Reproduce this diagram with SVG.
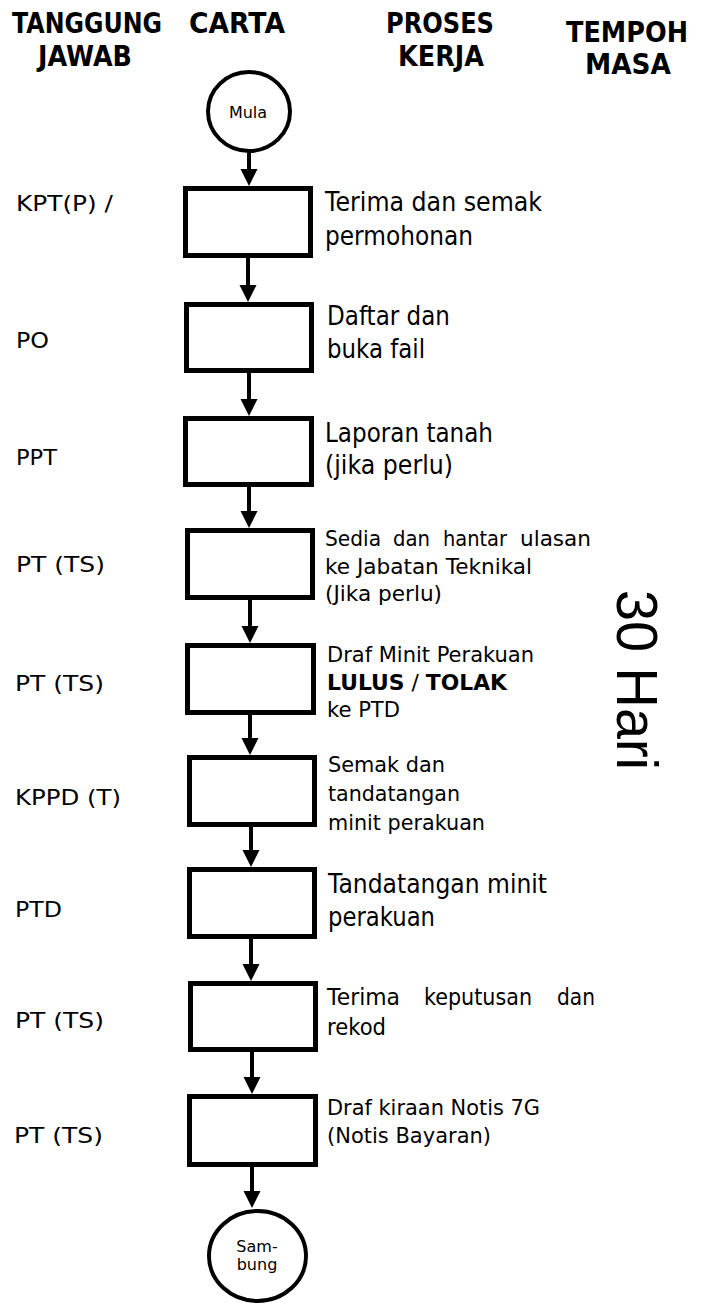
<svg xmlns="http://www.w3.org/2000/svg" width="703" height="1304" viewBox="0 0 703 1304">
<style>
.h{font-family:"DejaVu Sans","Liberation Sans",sans-serif;font-weight:bold;font-size:28px;fill:#000}
.t{font-family:"DejaVu Sans","Liberation Sans",sans-serif;font-size:26px;fill:#000}
.s{font-family:"DejaVu Sans","Liberation Sans",sans-serif;font-size:21px;fill:#000}
.l{font-family:"DejaVu Sans","Liberation Sans",sans-serif;font-size:22px;fill:#000}
.c{font-family:"DejaVu Sans","Liberation Sans",sans-serif;font-size:16px;fill:#000;text-anchor:middle}
.box{fill:#fff;stroke:#000;stroke-width:5}
.circ{fill:#fff;stroke:#000;stroke-width:4}
.ln{stroke:#000;stroke-width:4;fill:none}
.hd{fill:#000}
</style>
<rect width="703" height="1304" fill="#fff"/>
<g id="headers">
<text class="h" x="12" y="33" textLength="150" lengthAdjust="spacingAndGlyphs">TANGGUNG</text>
<text class="h" x="38" y="66" textLength="94" lengthAdjust="spacingAndGlyphs">JAWAB</text>
<text class="h" x="189" y="33" textLength="96" lengthAdjust="spacingAndGlyphs">CARTA</text>
<text class="h" x="386" y="33" textLength="108" lengthAdjust="spacingAndGlyphs">PROSES</text>
<text class="h" x="398" y="66" textLength="86" lengthAdjust="spacingAndGlyphs">KERJA</text>
<text class="h" x="566" y="42" textLength="122" lengthAdjust="spacingAndGlyphs">TEMPOH</text>
<text class="h" x="585" y="74" textLength="86" lengthAdjust="spacingAndGlyphs">MASA</text>
</g>
<g id="connectors">
<path class="ln" d="M249,153V172 M248,258V288 M249,373V402 M249,487V514 M250,600V629 M250,715V741 M251,827V853 M251,939V967 M252,1052V1080 M252,1167V1194"/>
<path class="hd" d="M240.5,169H257.5L249,186Z M239.5,285H256.5L248,302Z M240.5,399H257.5L249,416Z M240.5,511H257.5L249,528Z M241.5,626H258.5L250,643Z M241.5,738H258.5L250,755Z M242.5,850H259.5L251,867Z M242.5,964H259.5L251,981Z M243.5,1077H260.5L252,1094Z M243.5,1191H260.5L252,1208Z"/>
</g>
<g id="mula">
<ellipse class="circ" cx="249" cy="111.5" rx="41" ry="39.5"/>
<text class="c" x="248" y="118">Mula</text>
</g>
<g id="step1">
<rect class="box" x="185.5" y="188.5" width="125" height="67"/>
<text class="l" x="16" y="211" textLength="97" lengthAdjust="spacingAndGlyphs">KPT(P) /</text>
<text class="t" x="325" y="211" textLength="217" lengthAdjust="spacingAndGlyphs">Terima dan semak</text>
<text class="t" x="325" y="245" textLength="148" lengthAdjust="spacingAndGlyphs">permohonan</text>
</g>
<g id="step2">
<rect class="box" x="186.5" y="304.5" width="125" height="66"/>
<text class="l" x="16" y="348" textLength="33" lengthAdjust="spacingAndGlyphs">PO</text>
<text class="t" x="327" y="325" textLength="123" lengthAdjust="spacingAndGlyphs">Daftar dan</text>
<text class="t" x="327" y="358" textLength="98" lengthAdjust="spacingAndGlyphs">buka fail</text>
</g>
<g id="step3">
<rect class="box" x="185.5" y="418.5" width="126" height="66"/>
<text class="l" x="16" y="465" textLength="41" lengthAdjust="spacingAndGlyphs">PPT</text>
<text class="t" x="325" y="442" textLength="168" lengthAdjust="spacingAndGlyphs">Laporan tanah</text>
<text class="t" x="325" y="474" textLength="128" lengthAdjust="spacingAndGlyphs">(jika perlu)</text>
</g>
<g id="step4">
<rect class="box" x="187.5" y="530.5" width="125" height="67"/>
<text class="l" x="16" y="572" textLength="89" lengthAdjust="spacingAndGlyphs">PT (TS)</text>
<text class="s" y="546"><tspan x="325" textLength="56" lengthAdjust="spacingAndGlyphs">Sedia</tspan><tspan x="393" textLength="37" lengthAdjust="spacingAndGlyphs">dan</tspan><tspan x="443" textLength="64" lengthAdjust="spacingAndGlyphs">hantar</tspan><tspan x="520" textLength="71" lengthAdjust="spacingAndGlyphs">ulasan</tspan></text>
<text class="s" x="325" y="574" textLength="207" lengthAdjust="spacingAndGlyphs">ke Jabatan Teknikal</text>
<text class="s" x="325" y="601" textLength="117" lengthAdjust="spacingAndGlyphs">(Jika perlu)</text>
</g>
<g id="step5">
<rect class="box" x="187.5" y="645.5" width="126" height="67"/>
<text class="l" x="15" y="691" textLength="89" lengthAdjust="spacingAndGlyphs">PT (TS)</text>
<text class="s" x="327" y="662" textLength="207" lengthAdjust="spacingAndGlyphs">Draf Minit Perakuan</text>
<text class="s" x="327" y="690" textLength="180" lengthAdjust="spacingAndGlyphs"><tspan font-weight="bold">LULUS</tspan> / <tspan font-weight="bold">TOLAK</tspan></text>
<text class="s" x="327" y="717" textLength="73" lengthAdjust="spacingAndGlyphs">ke PTD</text>
</g>
<g id="step6">
<rect class="box" x="189.5" y="757.5" width="125" height="67"/>
<text class="l" x="15" y="805" textLength="106" lengthAdjust="spacingAndGlyphs">KPPD (T)</text>
<text class="s" x="328" y="772" textLength="117" lengthAdjust="spacingAndGlyphs">Semak dan</text>
<text class="s" x="328" y="801" textLength="132" lengthAdjust="spacingAndGlyphs">tandatangan</text>
<text class="s" x="328" y="830" textLength="157" lengthAdjust="spacingAndGlyphs">minit perakuan</text>
</g>
<g id="step7">
<rect class="box" x="189.5" y="869.5" width="125" height="67"/>
<text class="l" x="15" y="917" textLength="47" lengthAdjust="spacingAndGlyphs">PTD</text>
<text class="t" x="328" y="893" textLength="219" lengthAdjust="spacingAndGlyphs">Tandatangan minit</text>
<text class="t" x="328" y="926" textLength="107" lengthAdjust="spacingAndGlyphs">perakuan</text>
</g>
<g id="step8">
<rect class="box" x="190.5" y="983.5" width="125" height="66"/>
<text class="l" x="15" y="1028" textLength="89" lengthAdjust="spacingAndGlyphs">PT (TS)</text>
<text class="t" y="1005" style="font-size:23px"><tspan x="327" textLength="73" lengthAdjust="spacingAndGlyphs">Terima</tspan><tspan x="424" textLength="108" lengthAdjust="spacingAndGlyphs">keputusan</tspan><tspan x="557" textLength="38" lengthAdjust="spacingAndGlyphs">dan</tspan></text>
<text class="t" x="327" y="1035" style="font-size:23px" textLength="59" lengthAdjust="spacingAndGlyphs">rekod</text>
</g>
<g id="step9">
<rect class="box" x="189.5" y="1096.5" width="126" height="68"/>
<text class="l" x="14" y="1143" textLength="89" lengthAdjust="spacingAndGlyphs">PT (TS)</text>
<text class="t" x="327" y="1115" style="font-size:22px" textLength="213" lengthAdjust="spacingAndGlyphs">Draf kiraan Notis 7G</text>
<text class="t" x="327" y="1143" style="font-size:22px" textLength="164" lengthAdjust="spacingAndGlyphs">(Notis Bayaran)</text>
</g>
<g id="sambung">
<ellipse class="circ" cx="257.5" cy="1256" rx="48.5" ry="45"/>
<text class="c" x="257" y="1252">Sam-</text>
<text class="c" x="257" y="1270">bung</text>
</g>
<g id="tempoh">
<text x="0" y="0" transform="translate(617,590) rotate(90)" style="font-family:'Liberation Sans',Arial,sans-serif;font-size:58px;fill:#000" textLength="180" lengthAdjust="spacingAndGlyphs">30 Hari</text>
</g>
</svg>
